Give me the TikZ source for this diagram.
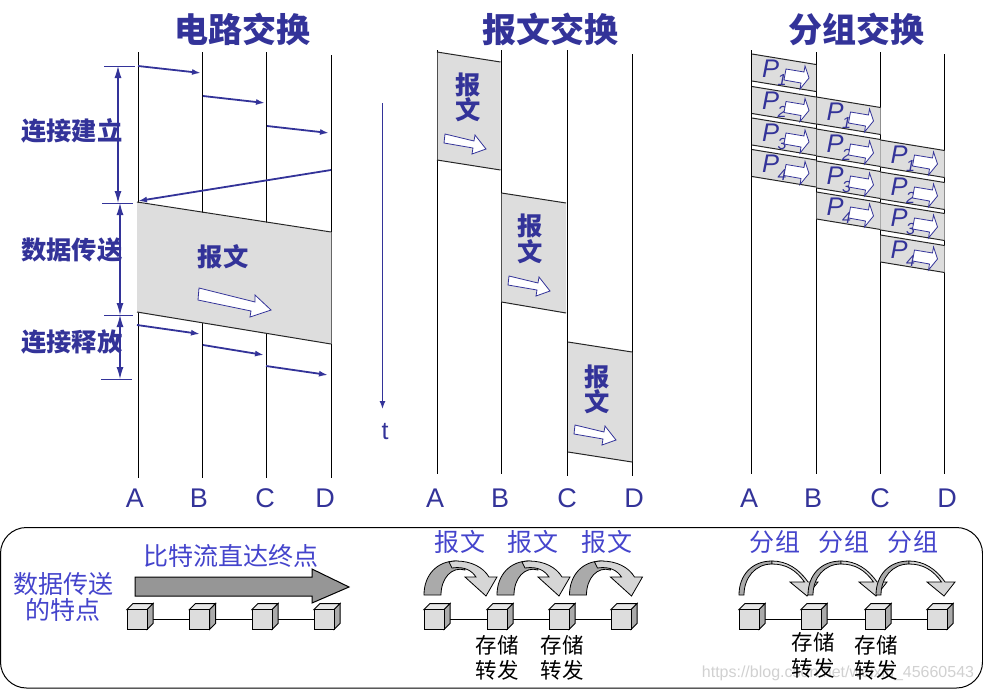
\documentclass[tikz,border=0pt]{standalone}
\usepackage{fontspec}
\setmainfont{Liberation Sans}
\newfontfamily\cjk{Noto Sans CJK SC}
\usetikzlibrary{arrows.meta}
\definecolor{navy}{RGB}{51,51,153}
\definecolor{lblue}{RGB}{68,68,204}
\definecolor{band}{RGB}{221,221,221}
\definecolor{arcdark}{RGB}{170,170,170}
\definecolor{arclight}{RGB}{214,214,214}
\tikzset{
  x=1pt,y=-1pt,
  lifeline/.style={draw=black,line width=1pt},
  msg/.style={draw=navy,line width=1.8pt,-{Latex[length=9pt,width=6pt]}},
  dimarrow/.style={draw=navy,line width=1.1pt,{Latex[length=12pt,width=7pt]}-{Latex[length=12pt,width=7pt]}},
  tickline/.style={draw=navy,line width=0.8pt},
  bandedge/.style={draw=black!85,line width=1pt},
  whitearrow/.style={draw=navy,fill=white,line width=0.8pt},
  titletext/.style={font=\cjk\bfseries\fontsize{34}{34}\selectfont,text=navy,inner sep=0},
  sidetext/.style={font=\cjk\bfseries\fontsize{25.3}{25.3}\selectfont,text=navy,inner sep=0},
  lettertext/.style={font=\fontsize{27}{27}\selectfont,text=navy,inner sep=0},
  bluetext/.style={font=\cjk\fontsize{25}{25}\selectfont,text=lblue,inner sep=0},
  storetext/.style={font=\cjk\fontsize{21.5}{21.5}\selectfont,text=black,inner sep=0},
  pname/.style={font=\fontsize{25.5}{25.5}\selectfont\itshape,text=navy,inner sep=0},
  pnum/.style={font=\fontsize{16}{16}\selectfont\itshape,text=navy,inner sep=0},
  cubeface/.style={draw=black,line width=1pt,fill=band,minimum size=20pt,inner sep=0,shape=rectangle},
}
\newcommand{\lifeline}[4]{%
  \coordinate (#1t) at (#2,#3);
  \coordinate (#1b) at (#2,#4);
  \draw[lifeline] (#1t) -- (#1b);}
\newcommand{\packet}[4]{%
  \begin{scope}[shift={(#1,#2)}]
    \fill[band] (0,0) -- (64,10.5) -- (64,37.5) -- (0,27) -- cycle;
    \draw[bandedge] (0,0) -- (64,10.5);
    \draw[bandedge] (0,27) -- (64,37.5);
    \node[pname] (#4p) at (18.5,14.5) {P};
    \node[pnum] (#4n) at (30,25.5) {#3};
    \draw[whitearrow] (34,15) -- (52,18) -- (53,12) -- (57,24) -- (48,35) -- (49,29) -- (32,26) -- cycle;
  \end{scope}}
\newcommand{\boxarrow}[2]{%
  \begin{scope}[shift={(#1,#2)}]
    \draw[whitearrow] (0,0) -- (29,7) -- (30,1) -- (41,15) -- (27,20) -- (28,14) -- (-1,9) -- cycle;
  \end{scope}}
\newcommand{\cube}[1]{%
  \begin{scope}[shift={(#1)}]
    \draw[line width=1pt,fill=arcdark] (10,-10) -- (16,-16) -- (16,4) -- (10,10) -- cycle;
    \draw[line width=1pt,fill=band!70!white] (-10,-10) -- (-4,-16) -- (16,-16) -- (10,-10) -- cycle;
  \end{scope}
  \node[cubeface] (#1box) at (#1) {};}
\newcommand{\cuberow}[5]{%
  \coordinate (#1a) at (#2,619.5);
  \coordinate (#1b) at (#3,619.5);
  \coordinate (#1c) at (#4,619.5);
  \coordinate (#1d) at (#5,619.5);
  \draw[line width=1pt] (#1a) -- (#1b) -- (#1c) -- (#1d);
  \cube{#1a}\cube{#1b}\cube{#1c}\cube{#1d}}
\newcommand{\hopbig}[1]{%
  \begin{scope}[shift={(#1,0)}]
    \draw[line width=.8pt,fill=arcdark] (0,595) .. controls (0,575) and (13,561) .. (32,561) .. controls (38,561) and (42,565) .. (41,570) .. controls (28,566) and (17,578) .. (17,595) -- cycle;
    \draw[line width=.8pt,fill=arclight] (32,561) .. controls (47,561) and (59,567) .. (65,577) -- (73,577) -- (62,596) -- (41,577) -- (52,577) .. controls (48,571) and (41,566) .. (28,568) -- (25,562) .. controls (27,561.4) and (29,561) .. (32,561) -- cycle;
  \end{scope}}
\newcommand{\hopthin}[1]{%
  \begin{scope}[shift={(#1,0)}]
    \draw[line width=.8pt,fill=arcdark] (0,595) .. controls (0,575) and (13,561) .. (33,561) -- (33,564) .. controls (16,564) and (5,578) .. (5,595) -- cycle;
    \draw[line width=.8pt,fill=arclight] (33,561) .. controls (48,561) and (60,569) .. (69,582) -- (79,582) -- (68,596) -- (51,582) -- (65.5,582) .. controls (57,570) and (47,564) .. (33,564) -- cycle;
  \end{scope}}
\begin{document}
\begin{tikzpicture}
\useasboundingbox (0,0) rectangle (983,691);
\fill[white] (0,0) rectangle (983,691);

\node[titletext] (t1) at (242,29) {电路交换};
\node[titletext] (t2) at (550,29) {报文交换};
\node[titletext] (t3) at (856,29) {分组交换};

% circuit switching
\lifeline{a}{138}{52}{478}
\lifeline{b}{202}{52}{478}
\lifeline{c}{266.5}{52}{478}
\lifeline{d}{331}{55}{478}
\fill[band] (137,202.5) -- (331,232.5) -- (331,344) -- (137,312.5) -- cycle;
\draw[bandedge] (137,202) -- (331,232);
\draw[bandedge] (137,312) -- (331,344);
\draw[line width=1pt,black!60] (331,232) -- (331,344);

\coordinate (m1s) at (138,66);  \coordinate (m1e) at (201,73);
\coordinate (m2s) at (203,96);  \coordinate (m2e) at (265,103);
\coordinate (m3s) at (267,126); \coordinate (m3e) at (329,133);
\coordinate (m4s) at (331,170); \coordinate (m4e) at (138,201);
\coordinate (m5s) at (137,325); \coordinate (m5e) at (200,334);
\coordinate (m6s) at (203,345); \coordinate (m6e) at (264,355);
\coordinate (m7s) at (266,366); \coordinate (m7e) at (328,375);
\foreach \i in {1,...,7} \draw[msg] (m\i s) -- (m\i e);

\coordinate (k1a) at (104,66);  \coordinate (k1b) at (135,66);
\coordinate (k2a) at (102,203); \coordinate (k2b) at (133,203);
\coordinate (k3a) at (104,315); \coordinate (k3b) at (133,315);
\coordinate (k4a) at (101,379); \coordinate (k4b) at (132,379);
\foreach \i in {1,...,4} \draw[tickline] (k\i a) -- (k\i b);
\coordinate (d1a) at (118,66);  \coordinate (d1b) at (118,203);
\coordinate (d2a) at (120,203); \coordinate (d2b) at (120,315);
\coordinate (d3a) at (120,315); \coordinate (d3b) at (120,379);
\foreach \i in {1,2,3} \draw[dimarrow] (d\i a) -- (d\i b);

\node[sidetext] (s1) at (72,131) {连接建立};
\node[sidetext] (s2) at (72,250) {数据传送};
\node[sidetext] (s3) at (72,342) {连接释放};
\node[sidetext] (msgc) at (223,257) {报文};
\draw[whitearrow] (199,288) -- (255,302) -- (255,295) -- (271,310) -- (250,317) -- (251,311) -- (198,300) -- cycle;

\coordinate (tt) at (382.5,103); \coordinate (tb) at (382.5,409);
\draw[draw=navy,line width=1.4pt,-{Latex[length=8pt,width=6pt]}] (tt) -- (tb);
\node[font=\fontsize{25}{25}\selectfont,text=navy,inner sep=0] (tl) at (385,432) {t};

% message switching
\lifeline{e}{437}{50}{474}
\lifeline{f}{501}{50}{474}
\lifeline{g}{567}{50}{476}
\lifeline{h}{632}{54}{476}
\fill[band] (437.5,52) -- (500.5,62) -- (500.5,170) -- (437.5,160) -- cycle;
\draw[bandedge] (437,52) -- (500.5,62);
\draw[bandedge] (437,160) -- (500.5,170);
\fill[band] (501.5,193) -- (566,203) -- (566,313) -- (501.5,302) -- cycle;
\draw[bandedge] (501.5,193) -- (566,203);
\draw[bandedge] (501.5,302) -- (566,313);
\fill[band] (568,342) -- (632,352) -- (632,462) -- (568,452) -- cycle;
\draw[bandedge] (568,342) -- (632,352);
\draw[bandedge] (568,452) -- (632,462);
\node[sidetext] (b1a) at (468,85) {报};
\node[sidetext] (b1b) at (468,110) {文};
\boxarrow{445}{134}
\node[sidetext] (b2a) at (530,226) {报};
\node[sidetext] (b2b) at (530,252) {文};
\boxarrow{509}{276}
\node[sidetext] (b3a) at (597,377) {报};
\node[sidetext] (b3b) at (597,402) {文};
\boxarrow{575}{425}

% packet switching
\lifeline{i}{751.5}{50}{474}
\lifeline{j}{816}{52}{474}
\lifeline{k}{880}{52}{474}
\lifeline{l}{944}{54}{474}
\packet{752}{54}{1}{pa}
\packet{752}{86.5}{2}{pb}
\packet{752}{118}{3}{pc}
\packet{752}{149.5}{4}{pd}
\packet{816.5}{97}{1}{pe}
\packet{816.5}{129}{2}{pf}
\packet{816.5}{161}{3}{pg}
\packet{816.5}{192}{4}{ph}
\packet{880.5}{140}{1}{pi}
\packet{880.5}{172}{2}{pj}
\packet{880.5}{203}{3}{pk}
\packet{880.5}{235}{4}{pl}

\foreach \n/\x/\t in {la/135/A,lb/199/B,lc/265/C,ld/325/D,le/435/A,lf/500/B,lg/567/C,lh/634/D,li/749/A,lj/813/B,lk/880/C,ll/947/D}
  \node[lettertext] (\n) at (\x,498) {\t};

% bottom panel
\draw[line width=1pt,rounded corners=26pt] (0.5,527.5) rectangle (982.5,688);
\node[font=\fontsize{16}{16}\selectfont,text=black!18,inner sep=0] (wm) at (838,673) {https://blog.csdn.net/weixin\_45660543};

\node[bluetext] (f1) at (63,584) {数据传送};
\node[bluetext] (f2) at (63,610) {的特点};
\node[bluetext] (f3) at (231,556) {比特流直达终点};
\draw[line width=1pt,fill=black!41] (135,577) -- (312,577) -- (312,569) -- (349,587) -- (312,603) -- (312,596) -- (135,596) -- cycle;
\cuberow{q}{137}{199.5}{262}{324}

\foreach \n/\x in {g1/460,g2/533,g3/607} \node[bluetext] (\n) at (\x,542) {报\hspace{1pt}文};
\hopbig{424}\hopbig{497}\hopbig{569.5}
\cuberow{r}{434}{497}{559}{621}
\node[storetext] (st1) at (497,645) {存储};
\node[storetext] (st2) at (497,670) {转发};
\node[storetext] (st3) at (562,645) {存储};
\node[storetext] (st4) at (562,670) {转发};

\foreach \n/\x in {g4/775,g5/844,g6/913} \node[bluetext] (\n) at (\x,542) {分\hspace{1pt}组};
\hopthin{739}\hopthin{808}\hopthin{876}
\cuberow{u}{749}{811}{875}{937}
\node[storetext] (st5) at (813,642) {存储};
\node[storetext] (st6) at (813,668) {转发};
\node[storetext] (st7) at (876,645) {存储};
\node[storetext] (st8) at (876,670) {转发};
\end{tikzpicture}
\end{document}
